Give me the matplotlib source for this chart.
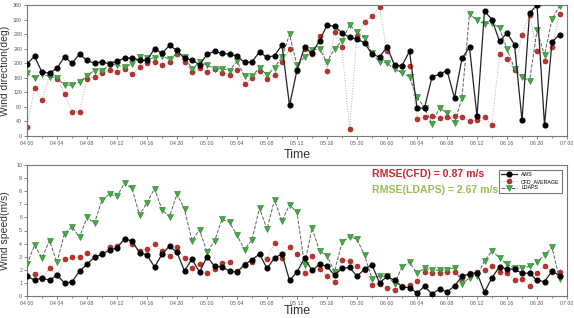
import matplotlib
matplotlib.use('Agg')
import matplotlib.pyplot as plt
import numpy as np

plt.rcParams['font.family'] = ['Liberation Sans', 'DejaVu Sans']

# hourly samples, 04 00 .. 06 23
hours = np.arange(72)
tick_labels = ['04 00', '04 04', '04 08', '04 12', '04 16', '04 20',
               '05 00', '05 04', '05 08', '05 12', '05 16', '05 20',
               '06 00', '06 04', '06 08', '06 12', '06 16', '06 20', '07 00']

# wind direction (deg)
dir_aws = [198, 219, 175, 173, 186, 218, 200, 225, 208, 200, 204, 198, 205, 214, 215, 208,
           208, 240, 227, 249, 235, 213, 209, 196, 224, 233, 227, 225, 220, 202, 204, 231,
           216, 221, 250, 84, 181, 244, 228, 261, 305, 301, 284, 271, 266, 256, 225, 217,
           245, 195, 193, 233, 77, 77, 162, 170, 180, 105, 213, 244, 54, 343, 320, 260,
           283, 251, 43, 337, 360, 30, 259, 278]
dir_cfd = [25, 131, 98, 168, 158, 116, 67, 67, 156, 162, 173, 181, 176, 185, 170, 190,
           201, 204, 194, 204, 226, 202, 176, 187, 176, 183, 174, 169, 182, 143, 160, 178,
           157, 169, 203, 238, 179, 239, 225, 276, 180, 285, 244, 18, 276, 314, 330, 355,
           233, 193, 193, 191, 46, 51, 54, 49, 52, 56, 51, 41, 43, 52, 31, 226,
           211, 181, 277, 333, 234, 205, 245, 334]
dir_ldaps = [172, 160, 170, 163, 160, 139, 140, 148, 166, 180, 179, 197, 195, 189, 198, 216,
             213, 214, 220, 211, 228, 216, 185, 203, 195, 185, 185, 180, 205, 165, 165, 187,
             168, 187, 217, 279, 194, 217, 235, 240, 203, 239, 261, 305, 286, 269, 228, 203,
             201, 183, 174, 162, 106, 78, 33, 78, 62, 35, 105, 336, 318, 308, 311, 297,
             239, 185, 162, 150, 291, 222, 321, 357]

# wind speed (m/s)
spd_aws = [1.54, 1.2, 1.38, 1.2, 1.59, 1.0, 1.08, 1.9, 2.41, 2.97, 3.18, 3.51, 3.67, 4.36, 4.2, 3.31,
           3.13, 2.21, 3.18, 3.82, 3.33, 1.92, 2.82, 1.82, 3.0, 2.28, 2.23, 1.9, 1.82, 2.38, 2.77, 3.21,
           2.1, 2.9, 3.21, 1.2, 1.82, 2.9, 1.95, 2.41, 2.26, 1.59, 2.1, 2.18, 1.51, 2.05, 2.38, 1.0,
           1.49, 1.2, 0.69, 0.64, 0.23, 0.74, 0.15, 0.54, 0.31, 0.77, 1.49, 1.69, 1.77, 0.28, 1.41, 2.23,
           2.05, 2.05, 1.74, 1.74, 1.2, 1.1, 1.9, 1.56]
spd_cfd = [1.49, 1.69, 1.31, 2.1, 1.59, 2.8, 2.95, 2.97, 3.28, 2.95, 3.31, 3.77, 3.85, 4.38, 4.0, 3.46,
           3.59, 3.95, 3.44, 3.05, 3.74, 2.87, 2.13, 2.41, 1.79, 2.03, 2.54, 2.56, 1.9, 2.46, 2.62, 3.18,
           2.85, 4.05, 2.92, 3.77, 3.23, 1.77, 3.03, 2.03, 1.51, 1.05, 2.72, 2.67, 2.26, 1.97, 0.82, 0.95,
           0.62, 0.44, 0.79, 0.82, 1.15, 1.82, 1.79, 1.79, 1.82, 1.82, 1.41, 1.72, 1.87, 1.97, 2.31, 1.85,
           1.72, 1.21, 1.26, 0.74, 1.77, 2.28, 1.82, 1.82]
spd_ldaps = [2.41, 3.87, 2.9, 4.23, 2.56, 4.77, 5.28, 4.49, 6.0, 5.56, 7.33, 7.77, 7.62, 8.59, 8.23, 6.18,
             7.13, 8.2, 6.59, 6.05, 7.79, 6.62, 4.23, 5.05, 3.36, 4.18, 5.87, 5.62, 4.64, 3.54, 4.28, 6.72,
             5.1, 7.33, 5.72, 6.97, 6.38, 2.38, 5.18, 3.46, 3.08, 1.87, 4.1, 4.54, 4.33, 3.13, 1.33, 1.51,
             1.51, 0.95, 2.23, 2.59, 1.72, 2.1, 2.0, 1.95, 2.0, 2.15, 0.95, 1.38, 1.56, 2.67, 3.46, 2.9,
             2.41, 2.13, 2.13, 2.26, 2.59, 3.1, 3.72, 1.33]

W, H = 574, 318
fig = plt.figure(figsize=(W / 100, H / 100), dpi=100)
ax1 = fig.add_axes([27 / W, 1 - 136 / H, 540 / W, 131 / H])
ax2 = fig.add_axes([27 / W, 1 - 296 / H, 540 / W, 131 / H])

red = '#c3302b'
green = '#3fae3f'


def draw(ax, aws, cfd, ldaps):
    ax.plot(hours, cfd, ':', color='#b0b0b0', lw=0.7, marker='o', ms=3.6,
            mfc=red, mec='#8e1d1a', mew=0.4, label='CFD_AVERAGE', zorder=2)
    ax.plot(hours, ldaps, '--', color='#606060', lw=0.7, marker='v', ms=4.2,
            mfc=green, mec='#2a7a2a', mew=0.4, label='LDAPS', zorder=3)
    ax.plot(hours, aws, '-', color='#222222', lw=0.9, marker='o', ms=3.4,
            mfc='black', mec='black', label='AWS', zorder=4)
    ax.set_xlim(0, 72)
    ax.set_xticks(np.arange(0, 73, 4))
    ax.set_xticks(np.arange(0, 73, 2), minor=True)
    ax.set_xticklabels(tick_labels)
    ax.tick_params(labelsize=3.8, colors='#555555', length=2, width=0.5, pad=1.5)
    ax.tick_params(which='minor', length=1.5, width=0.5, colors='#555555')
    for s in ax.spines.values():
        s.set_color('#777777')
        s.set_linewidth(0.8)


draw(ax1, dir_aws, dir_cfd, dir_ldaps)
ax1.set_ylim(0, 360)
ax1.set_yticks(np.arange(0, 361, 40))
ax1.set_ylabel('Wind direction(deg)', fontsize=7.5, color='#333333')
ax1.yaxis.set_label_coords(-0.031, 0.5)
ax1.set_xlabel('Time', fontsize=9, color='#333333')
ax1.xaxis.set_label_coords(0.5, -0.1)

draw(ax2, spd_aws, spd_cfd, spd_ldaps)
ax2.set_ylim(0, 10)
ax2.set_yticks(np.arange(0, 11, 1))
ax2.set_ylabel('Wind speed(m/s)', fontsize=7.5, color='#333333')
ax2.yaxis.set_label_coords(-0.031, 0.5)
ax2.set_xlabel('Time', fontsize=9, color='#333333')
ax2.xaxis.set_label_coords(0.5, -0.07)

h, l = ax2.get_legend_handles_labels()
order = [2, 0, 1]
leg = ax2.legend([h[i] for i in order], [l[i] for i in order], loc='upper right',
                 bbox_to_anchor=(1 - 2 / 540, 1 - 2 / 131), fontsize=3.8,
                 frameon=True, fancybox=False, edgecolor='#555555',
                 handlelength=3, borderpad=0.5, labelspacing=0.3)
leg.get_frame().set_linewidth(0.8)

ax2.text(428 / W, 1 - 174 / H, 'RMSE(CFD) = 0.87 m/s', transform=fig.transFigure,
         ha='center', va='center', fontsize=7.6, fontweight='bold', color='#c8282d')
ax2.text(435 / W, 1 - 190 / H, 'RMSE(LDAPS) = 2.67 m/s', transform=fig.transFigure,
         ha='center', va='center', fontsize=7.6, fontweight='bold', color='#9cbb5a')

fig.savefig('out.png', dpi=100)
